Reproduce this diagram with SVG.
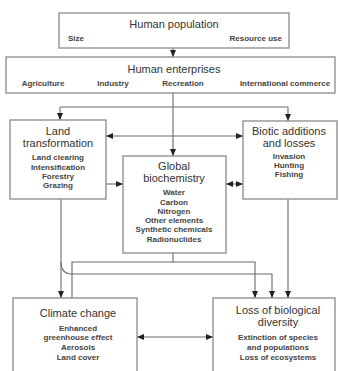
<svg xmlns="http://www.w3.org/2000/svg" width="339" height="371" viewBox="0 0 339 371">
<defs>
<marker id="ah" markerUnits="userSpaceOnUse" markerWidth="7" markerHeight="6" refX="7" refY="3" orient="auto-start-reverse">
<path d="M0,0 L7,3 L0,6 z" fill="#222"/>
</marker>
</defs>
<style>
.box{fill:#fff;stroke:#8a8a8a;stroke-width:1.3}
.ln{fill:none;stroke:#6a6a6a;stroke-width:1.1}
.ar{marker-end:url(#ah)}
.da{marker-start:url(#ah);marker-end:url(#ah)}
text{font-family:"Liberation Sans",Arial,sans-serif;fill:#333;text-anchor:middle}
.t{font-size:11px}
.s{font-size:8px;font-weight:bold;fill:#444}
</style>
<rect width="339" height="371" fill="#fff"/>
<g id="connectors">
<path class="ln ar" d="M173,48 V57"/>
<path class="ln ar" d="M173,93 V156"/>
<path class="ln" d="M60,107 H288"/>
<path class="ln ar" d="M60,107 V120"/>
<path class="ln ar" d="M288,107 V121"/>
<path class="ln da" d="M106,136 H243"/>
<path class="ln ar" d="M106,184 H123"/>
<path class="ln da" d="M226,184 H243"/>
<path class="ln ar" d="M61,199 V298"/>
<path class="ln ar" d="M61,262 Q61,274 72,274 H272 V298"/>
<path class="ln" d="M173,253 V262"/>
<path class="ln ar" d="M72,298 V262 H255 V298"/>
<path class="ln ar" d="M288,199 V298"/>
<path class="ln da" d="M137,337 H213"/>
</g>
<g id="human-population">
<rect class="box" x="59" y="13" width="230" height="35"/>
<text class="t" x="174" y="28">Human population</text>
<text class="s" x="68" y="41" style="text-anchor:start">Size</text>
<text class="s" x="282" y="41" style="text-anchor:end">Resource use</text>
</g>
<g id="human-enterprises">
<rect class="box" x="6" y="57" width="329" height="36"/>
<text class="t" x="174" y="73">Human enterprises</text>
<text class="s" x="43" y="86">Agriculture</text>
<text class="s" x="113" y="86">Industry</text>
<text class="s" x="183" y="86">Recreation</text>
<text class="s" x="285" y="86">International commerce</text>
</g>
<g id="land-transformation">
<rect class="box" x="10" y="120" width="96" height="79"/>
<text class="t" x="58" y="135">Land</text>
<text class="t" x="58" y="147">transformation</text>
<text class="s" x="58" y="160">Land clearing</text>
<text class="s" x="58" y="169.5">Intensification</text>
<text class="s" x="58" y="179">Forestry</text>
<text class="s" x="58" y="188">Grazing</text>
</g>
<g id="biotic">
<rect class="box" x="243" y="121" width="94" height="78"/>
<text class="t" x="289" y="135">Biotic additions</text>
<text class="t" x="289" y="147">and losses</text>
<text class="s" x="289" y="159">Invasion</text>
<text class="s" x="289" y="168">Hunting</text>
<text class="s" x="289" y="177">Fishing</text>
</g>
<g id="global-biochemistry">
<rect class="box" x="123" y="156" width="103" height="97"/>
<text class="t" x="174" y="170">Global</text>
<text class="t" x="174" y="182">biochemistry</text>
<text class="s" x="174" y="195">Water</text>
<text class="s" x="174" y="204.5">Carbon</text>
<text class="s" x="174" y="213.5">Nitrogen</text>
<text class="s" x="174" y="223">Other elements</text>
<text class="s" x="174" y="232">Synthetic chemicals</text>
<text class="s" x="174" y="241.5">Radionuclides</text>
</g>
<g id="climate-change">
<rect class="box" x="13" y="298" width="124" height="80"/>
<text class="t" x="78" y="317">Climate change</text>
<text class="s" x="78" y="331">Enhanced</text>
<text class="s" x="78" y="340">greenhouse effect</text>
<text class="s" x="78" y="350">Aerosols</text>
<text class="s" x="78" y="360">Land cover</text>
</g>
<g id="loss-of-diversity">
<rect class="box" x="213" y="298" width="122" height="80"/>
<text class="t" x="278" y="314">Loss of biological</text>
<text class="t" x="278" y="326">diversity</text>
<text class="s" x="278" y="340">Extinction of species</text>
<text class="s" x="278" y="350">and populations</text>
<text class="s" x="278" y="360">Loss of ecosystems</text>
</g>
</svg>
